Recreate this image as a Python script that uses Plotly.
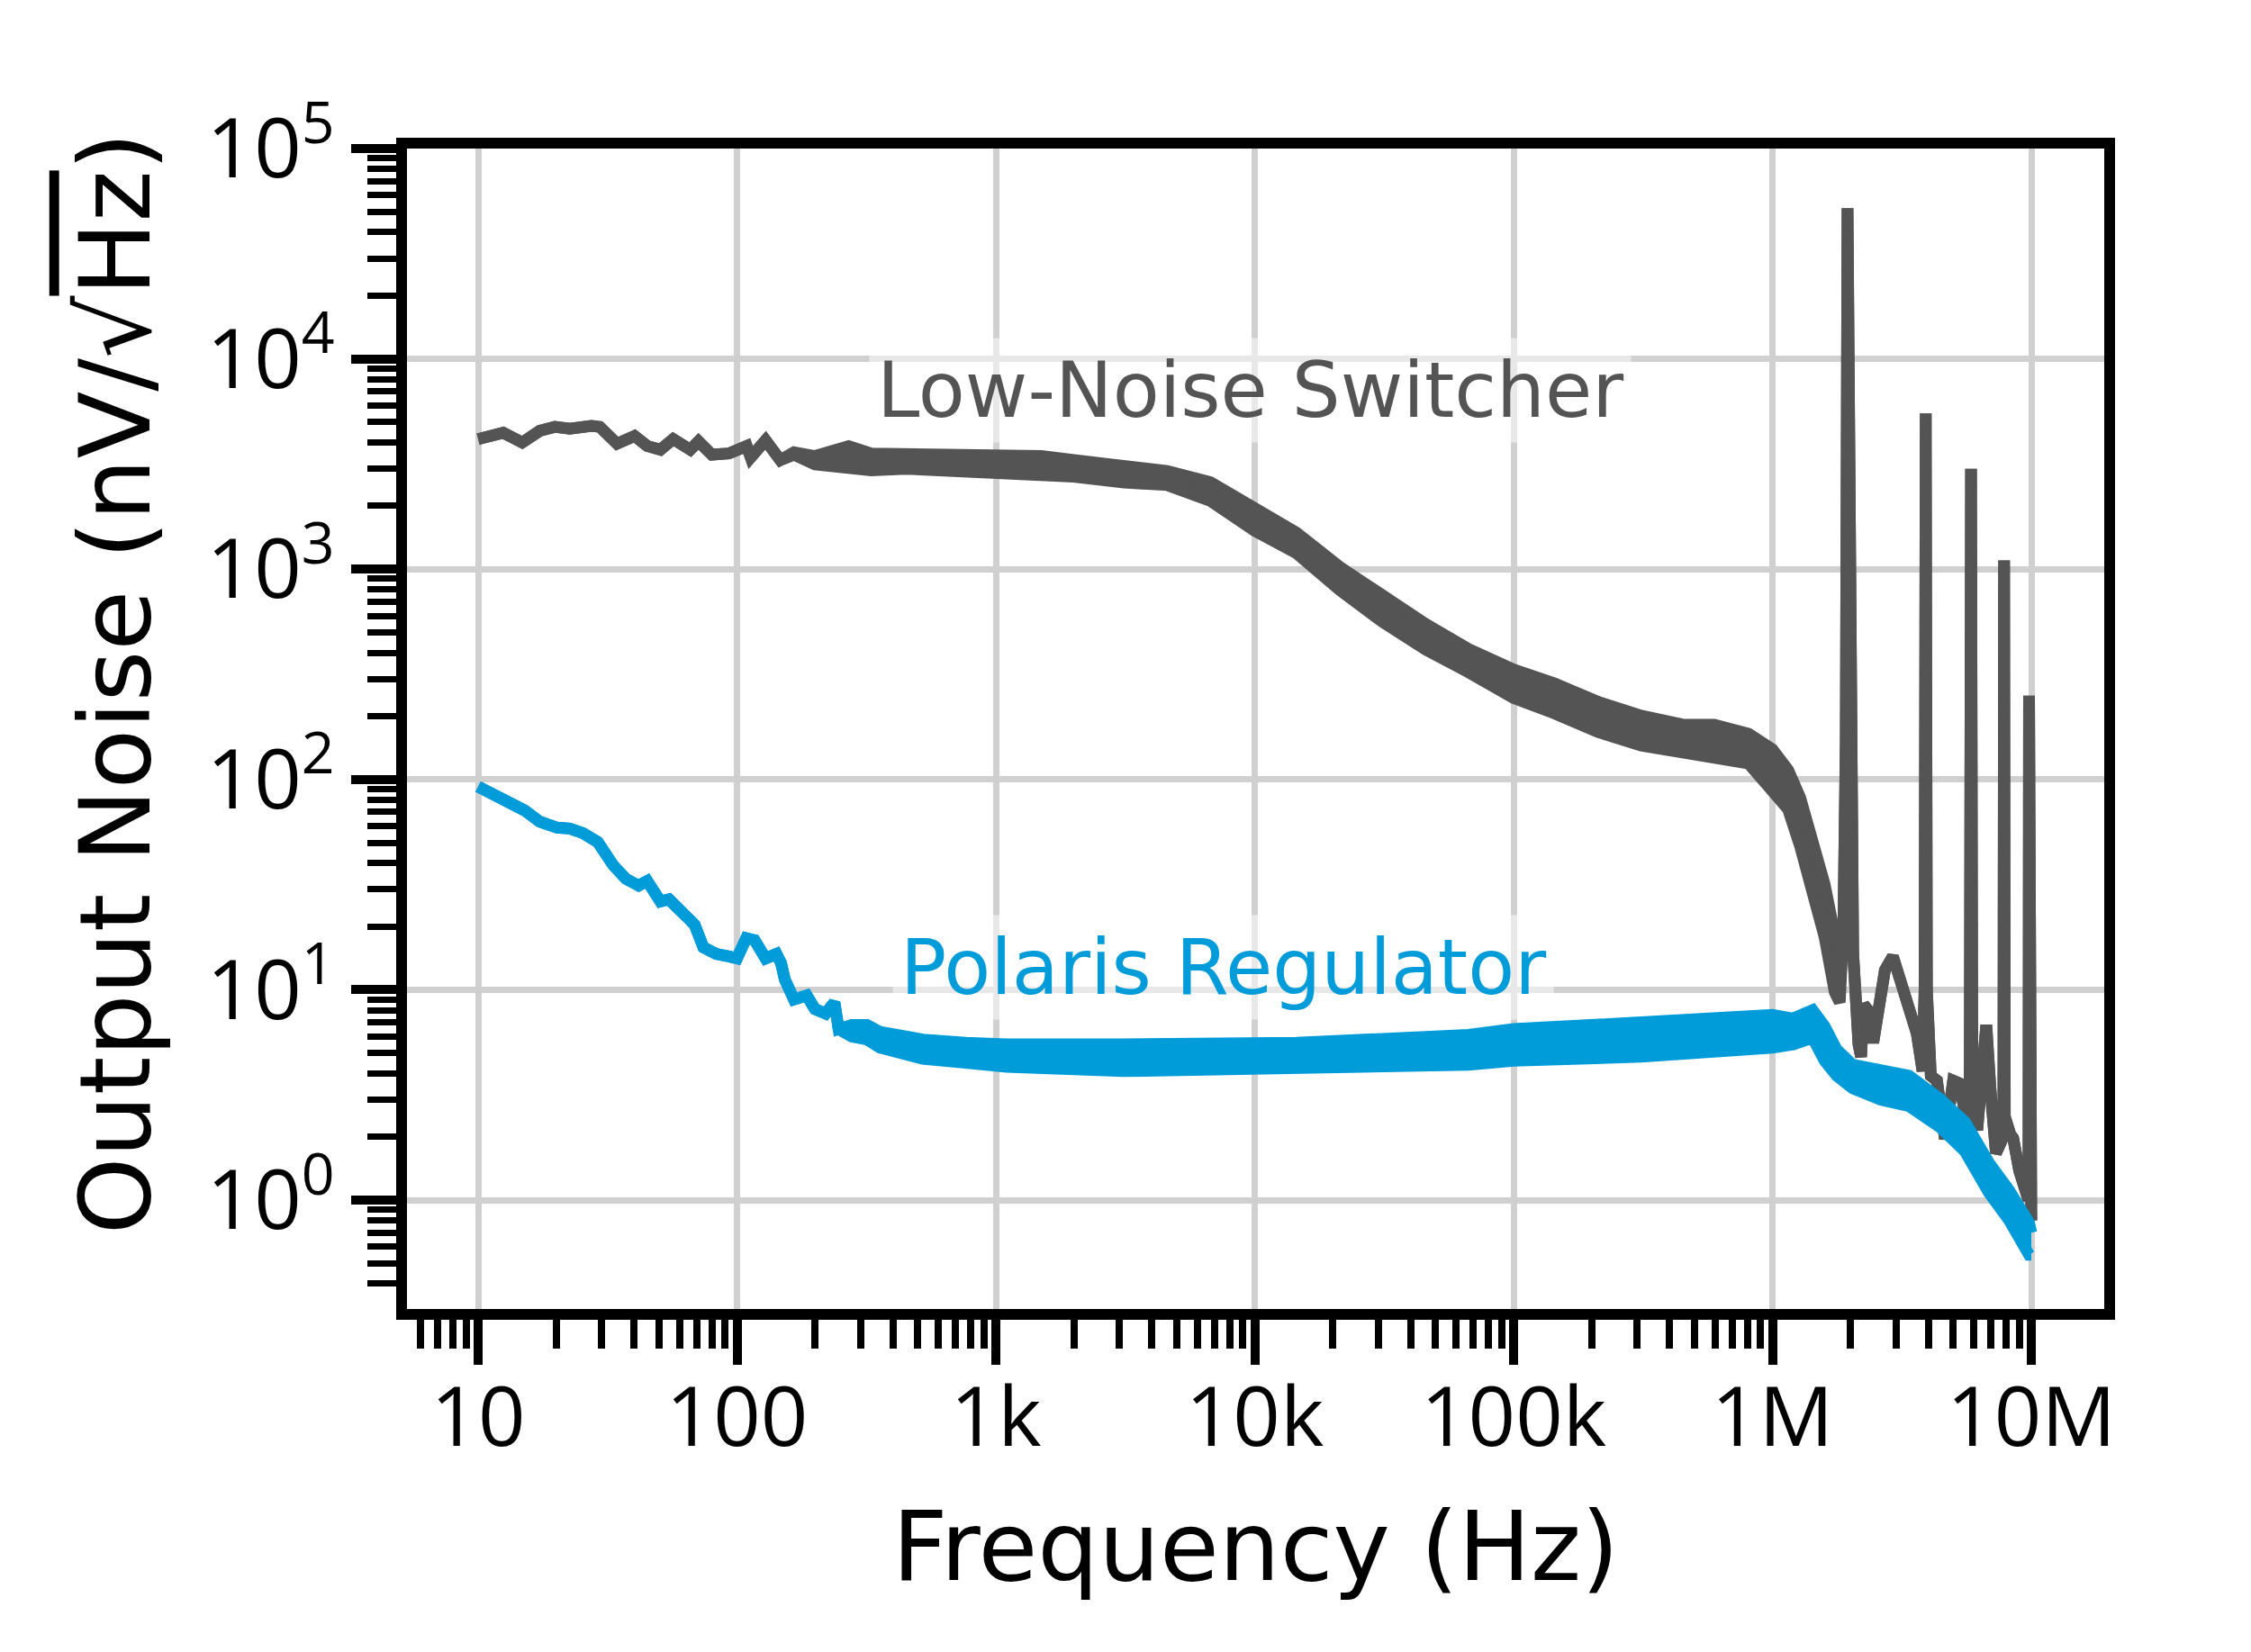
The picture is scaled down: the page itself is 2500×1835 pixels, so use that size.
import plotly.graph_objects as go

# ---------------- data ----------------
sw_freq = [10, 12.5, 14.8, 17.3, 19.8, 22.6, 27.4, 29.5, 34.4, 40.2, 45, 50.6, 56.7, 66, 71, 80, 93,
           109, 113, 129, 147, 166, 200, 270, 330, 450, 600, 800, 1000, 1500, 2000, 3130, 4590, 6740,
           1e4, 1.45e4, 2.13e4, 3.12e4, 4.58e4, 6.7e4, 1e5, 1.44e5, 2.12e5, 3.11e5, 4.56e5, 5.96e5,
           8.09e5, 1e6, 1.15e6, 1.28e6, 1.43e6, 1.59e6, 1.74e6, 1.82e6, 1.88e6, 1.92e6, 1.95e6,
           1.99e6, 2.05e6, 2.15e6, 2.2e6, 2.25e6, 2.36e6, 2.45e6, 2.6e6, 2.72e6, 2.92e6, 3.13e6,
           3.37e6, 3.61e6, 3.8e6, 3.87e6, 3.91e6, 3.95e6, 4.09e6, 4.32e6, 4.64e6, 4.99e6, 5.26e6,
           5.55e6, 5.78e6, 5.85e6, 5.92e6, 6.18e6, 6.52e6, 6.7e6, 6.95e6, 7.3e6, 7.8e6, 7.85e6,
           7.9e6, 8.3e6, 8.51e6, 8.98e6, 9.48e6, 9.75e6, 9.8e6, 9.86e6, 1e7]
sw_hi = [4150, 4450, 4000, 4550, 4750, 4650, 4800, 4750, 3950, 4300, 3850, 3700, 4150, 3700, 4050,
         3500, 3550, 3850, 3400, 4100, 3300, 3600, 3450, 3850, 3550, 3550, 3500, 3550, 3550, 3450,
         3300, 3080, 2930, 2590, 1960, 1490, 1025, 741, 548, 417, 333, 286, 234, 201, 182, 182,
         165, 139, 111, 82, 52.5, 31.8, 18.3, 11, 20, 150, 52000, 150, 15, 5.5, 4.8, 8.5, 7.9,
         5.6, 9.2, 12.4, 14.4, 11.2, 8.3, 6.2, 4.1, 10, 5500, 10, 3.9, 3.7, 1.95, 3.7, 3.6, 2.6,
         2.5, 3000, 3.0, 2.15, 6.5, 6.8, 3.4, 1.67, 2.0, 1100, 2.5, 2.05, 1.97, 1.38, 1.07, 1.0,
         250, 1.0, 0.8]
sw_lo = [4150, 4450, 4000, 4550, 4750, 4650, 4800, 4750, 3950, 4300, 3850, 3700, 4150, 3700, 4050,
         3500, 3550, 3850, 3400, 4100, 3300, 3500, 3150, 3050, 2950, 3000, 2950, 2900, 2950, 2850,
         2750, 2580, 2510, 2110, 1520, 1190, 795, 560, 414, 323, 244, 206, 168, 145, 134, 128,
         119, 88, 72, 48, 29.3, 17.8, 9.75, 8.7, 20, 150, 52000, 150, 15, 5.5, 4.8, 8.5, 7.9,
         5.6, 9.2, 12.4, 14.4, 11.2, 8.3, 6.2, 4.1, 10, 5500, 10, 3.9, 3.7, 1.95, 3.7, 3.6, 2.6,
         2.5, 3000, 3.0, 2.15, 6.5, 6.8, 3.4, 1.67, 2.0, 1100, 2.5, 2.05, 1.97, 1.38, 1.07, 1.0,
         250, 1.0, 0.8]

pol_freq = [10, 12.7, 15.1, 17.3, 20.2, 22.6, 25.4, 29, 33.2, 37.2, 41.7, 45, 50.6, 54.6, 62.3,
            68.6, 74.2, 83.1, 93, 100, 108.6, 117, 129, 142, 148, 153, 166, 186, 200, 220, 238,
            247, 277, 318, 357, 432, 522, 765, 1100, 3100, 1.45e4, 6.7e4, 1e5, 3.11e5, 1e6,
            1.2e6, 1.43e6, 1.59e6, 1.77e6, 2.04e6, 2.62e6, 3.37e6, 4.48e6, 5.55e6, 6.87e6,
            8.22e6, 9.8e6, 1e7]
pol_hi = [92.5, 79.6, 71.3, 63, 59, 58.4, 55.6, 50.4, 39.2, 33.7, 31.3, 32.9, 26.3, 26.9, 23.2,
          20.4, 15.9, 14.8, 14.4, 14.1, 17.6, 17.2, 14.1, 14.8, 13.4, 11.2, 9.0, 9.4, 8.1, 7.7,
          8.7, 6.5, 6.8, 6.8, 6.3, 6.0, 5.8, 5.6, 5.5, 5.5, 5.6, 6.1, 6.5, 7.0, 7.6, 7.3, 8.0,
          6.7, 5.2, 4.4, 4.2, 3.9, 3.0, 2.35, 1.5, 1.11, 0.78, 0.7]
pol_lo = [92.5, 79.6, 71.3, 63, 59, 58.4, 55.6, 50.4, 39.2, 33.7, 31.3, 32.9, 26.3, 26.9, 23.2,
          20.4, 15.9, 14.8, 14.4, 14.1, 17.6, 17.2, 14.1, 14.8, 13.4, 11.2, 9.0, 9.4, 8.1, 7.7,
          8.7, 6.5, 6.0, 5.8, 5.3, 5.0, 4.7, 4.5, 4.3, 4.1, 4.3, 4.4, 4.6, 4.8, 5.3, 5.5, 5.9,
          4.6, 3.9, 3.4, 3.0, 2.8, 2.2, 1.7, 1.08, 0.80, 0.55, 0.55]

x_tickvals = [10, 100, 1e3, 1e4, 1e5, 1e6, 1e7]
x_ticktext = ["10", "100", "1k", "10k", "100k", "1M", "10M"]
y_tickvals = [1, 10, 100, 1e3, 1e4, 1e5]
y_ticktext = ["10<sup>0</sup>", "10<sup>1</sup>", "10<sup>2</sup>", "10<sup>3</sup>",
              "10<sup>4</sup>", "10<sup>5</sup>"]

x_title = "Frequency (Hz)"
y_title = "Output Noise (nV/√<span style='text-decoration:overline'>Hz</span>)"

# minor tick positions (axis configuration)
x_minor = [m * 10 ** e for e in range(0, 8) for m in range(2, 10) if 5 <= m * 10 ** e <= 2e7]
y_minor = [m * 10.0 ** e for e in range(-1, 5) for m in range(2, 10) if 0.29 <= m * 10.0 ** e <= 1e5]

GRAY = "#545454"
BLUE = "#009BD9"
TICKFONT = "Open Sans"
TEXTFONT = "DejaVu Sans"
LW = 13

fig = go.Figure()
for freq, hi, lo, col in [(sw_freq, sw_hi, sw_lo, GRAY), (pol_freq, pol_hi, pol_lo, BLUE)]:
    fig.add_trace(go.Scatter(x=freq, y=hi, mode="lines", line=dict(color=col, width=LW),
                             showlegend=False, hoverinfo="skip"))
    fig.add_trace(go.Scatter(x=freq, y=lo, mode="lines", line=dict(color=col, width=LW),
                             fill="tonexty", fillcolor=col, showlegend=False, hoverinfo="skip"))

axis_common = dict(
    type="log", showline=True, linecolor="black", linewidth=12, mirror=True,
    showgrid=True, gridcolor="#d0d0d0", gridwidth=7, zeroline=False,
    ticks="outside", tickcolor="black", tickwidth=10,
    tickfont=dict(family=TICKFONT, size=92, color="black"),
    tickmode="array",
)

fig.update_xaxes(
    **axis_common, range=[0.7252, 7.2817], tickvals=x_tickvals, ticktext=x_ticktext, ticklen=50,
    ticklabelstandoff=-20,
    minor=dict(tickmode="array", tickvals=x_minor, ticks="outside", ticklen=32, tickwidth=8,
               tickcolor="black", showgrid=False),
    title=dict(text=x_title, font=dict(family=TEXTFONT, size=107, color="black"), standoff=53),
)
fig.update_yaxes(
    **axis_common, range=[-0.518, 5.0], tickvals=y_tickvals, ticktext=y_ticktext, ticklen=50,
    minor=dict(tickmode="array", tickvals=y_minor, ticks="outside", ticklen=32, tickwidth=7,
               tickcolor="black", showgrid=False),
)

# y-axis title placed as a rotated annotation (reference title sits above the plot centre)
fig.add_annotation(x=-0.1719, y=0.539, xref="paper", yref="paper", text=y_title,
                   textangle=-90, xanchor="center", yanchor="middle", showarrow=False,
                   font=dict(family=TEXTFONT, size=109, color="black"))

fig.add_annotation(x=0.497, y=0.792, xref="paper", yref="paper", text="Low-Noise Switcher",
                   xanchor="center", yanchor="middle",
                   showarrow=False, font=dict(family=TEXTFONT, size=85, color=GRAY),
                   bgcolor="rgba(255,255,255,0.5)", borderpad=8)
fig.add_annotation(x=0.481, y=0.2946, xref="paper", yref="paper", text="Polaris Regulator",
                   xanchor="center", yanchor="middle",
                   showarrow=False, font=dict(family=TEXTFONT, size=85, color=BLUE),
                   bgcolor="rgba(255,255,255,0.5)", borderpad=8)

fig.update_layout(
    width=2500, height=1835, paper_bgcolor="white", plot_bgcolor="white",
    margin=dict(l=452, r=163, t=165, b=381, autoexpand=False),
)

fig.write_html("out.html")
